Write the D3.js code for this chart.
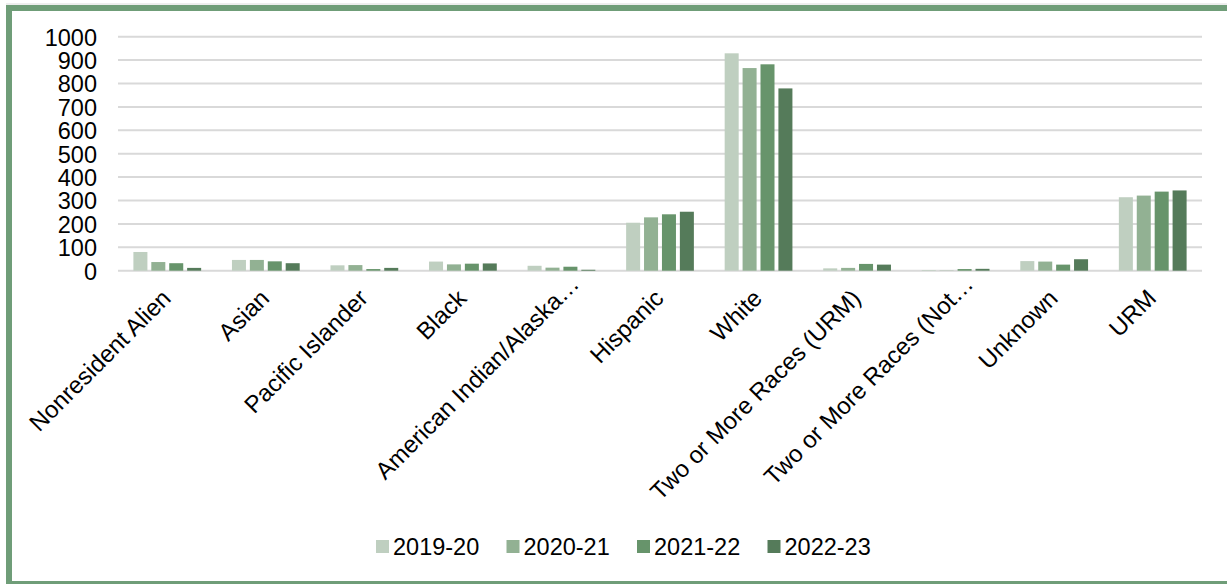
<!DOCTYPE html>
<html>
<head>
<meta charset="utf-8">
<script src="https://cdn.jsdelivr.net/npm/d3@7"></script>
<style>
  html, body { margin: 0; padding: 0; background: #fff; }
  svg { display: block; font-family: "Liberation Sans", Arial, sans-serif; }
</style>
</head>
<body>
<svg id="chart" width="1227" height="584"></svg>
<script>
// Enrollment by race/ethnicity, four academic years
const categories = [
  "Nonresident Alien", "Asian", "Pacific Islander", "Black",
  "American Indian/Alaska\u2026", "Hispanic", "White",
  "Two or More Races (URM)", "Two or More Races (Not\u2026", "Unknown", "URM"
];
const years = ["2019-20", "2020-21", "2021-22", "2022-23"];
const values2019 = [80, 46, 23, 39, 21, 205, 929, 10, 3, 41, 314];
const values2020 = [37, 46, 24, 27, 13, 228, 866, 12, 1, 39, 321];
const values2021 = [32, 40, 7, 30, 17, 241, 882, 29, 7, 26, 338];
const values2022 = [12, 32, 12, 31, 4, 252, 779, 26, 8, 49, 343];
const yTicks = [0, 100, 200, 300, 400, 500, 600, 700, 800, 900, 1000];

const seriesValues = [values2019, values2020, values2021, values2022];
const colors = ["#bfcfc0", "#92b193", "#67946b", "#557b5a"];

const svg = d3.select("#chart");
const W = 1227, H = 584;

// frame
svg.append("line").attr("x1", 6).attr("x2", W).attr("y1", 4).attr("y2", 4)
  .attr("stroke", "#dcdcdc").attr("stroke-width", 1);
svg.append("rect").attr("x", 6).attr("y", 5).attr("width", W - 6).attr("height", 6).attr("fill", "#6f9d78");
svg.append("rect").attr("x", 6).attr("y", 5).attr("width", 6).attr("height", H - 5).attr("fill", "#6f9d78");
svg.append("rect").attr("x", 6).attr("y", 581).attr("width", W - 6).attr("height", 3).attr("fill", "#6f9d78");

const plot = { left: 118, right: 1202, top: 36.7, bottom: 270.7 };

const x0 = d3.scaleBand().domain(categories).range([plot.left, plot.right]).padding(0);
const step = x0.step();
const x1 = d3.scaleBand().domain(years).range([15.4, step - 15.4]).paddingInner(0.218).paddingOuter(0);
const y = d3.scaleLinear().domain([0, 1000]).range([plot.bottom, plot.top]);
const color = d3.scaleOrdinal().domain(years).range(colors);

// gridlines
svg.append("g").selectAll("line").data(yTicks).join("line")
  .attr("x1", plot.left).attr("x2", plot.right)
  .attr("y1", d => y(d)).attr("y2", d => y(d))
  .attr("stroke", "#d9d9d9").attr("stroke-width", 2);

// y axis labels
const yAxis = d3.axisLeft(y).tickValues(yTicks).tickFormat(d3.format("d")).tickSize(0).tickPadding(0);
const gy = svg.append("g").attr("transform", "translate(97,0)").call(yAxis);
gy.select(".domain").remove();
gy.selectAll("text").attr("font-size", 23.5).attr("fill", "#000")
  .attr("font-family", "Liberation Sans, Arial, sans-serif").attr("dy", "0.36em");

// bars
const rows = categories.map((c, i) => ({ cat: c, vals: years.map((yr, j) => ({ yr, v: seriesValues[j][i] })) }));
const groups = svg.append("g").selectAll("g").data(rows).join("g")
  .attr("transform", d => `translate(${x0(d.cat)},0)`);
groups.selectAll("rect").data(d => d.vals).join("rect")
  .attr("x", d => x1(d.yr))
  .attr("width", x1.bandwidth())
  .attr("y", d => y(d.v))
  .attr("height", d => y(0) - y(d.v))
  .attr("fill", d => color(d.yr));

// category labels (truncated ones overhang along their baseline)
const xAxis = d3.axisBottom(x0).tickSize(0).tickPadding(0);
const gx = svg.append("g").attr("transform", `translate(0,${plot.bottom})`).call(xAxis);
gx.select(".domain").remove();
gx.selectAll(".tick text")
  .attr("font-size", 24).attr("fill", "#000")
  .attr("font-family", "Liberation Sans, Arial, sans-serif")
  .attr("text-anchor", "end")
  .attr("y", 0).attr("dy", 0)
  .attr("dx", d => d.endsWith("\u2026") ? 20 : 0)
  .attr("transform", "translate(5,29) rotate(-45)");

// legend
const legendX = [376, 506.5, 637, 767.5];
const legend = svg.append("g").selectAll("g").data(years).join("g")
  .attr("transform", (d, i) => `translate(${legendX[i]},546.5)`);
legend.append("rect").attr("x", 0).attr("y", -6.5).attr("width", 13).attr("height", 13)
  .attr("fill", d => color(d));
legend.append("text").attr("x", 17).attr("dy", "0.36em")
  .attr("font-size", 23.5).attr("fill", "#000").text(d => d);
</script>
</body>
</html>
